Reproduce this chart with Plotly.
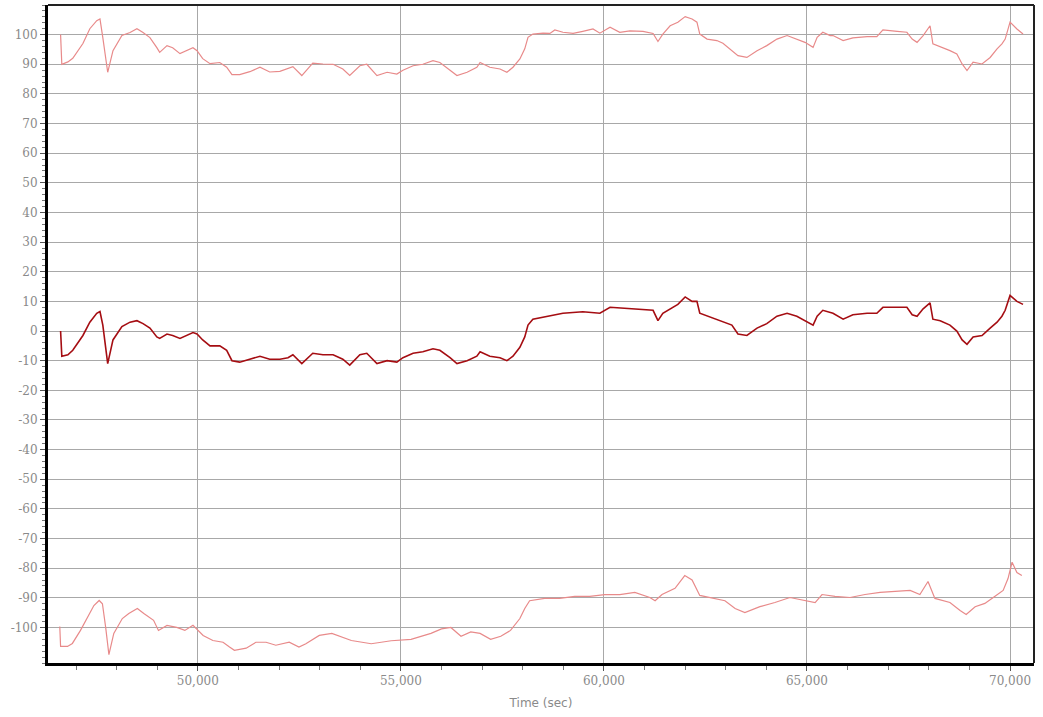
import plotly.graph_objects as go

# ---- data ----
t_upper = [46620, 46650, 46800, 46920, 47170, 47340, 47510, 47590, 47660, 47780, 47910, 48130, 48330, 48500,
           48650, 48820, 48990, 49060, 49240, 49380, 49560, 49730, 49880, 49980, 50120, 50300, 50540, 50710,
           50840, 51030, 51280, 51530, 51770, 52020, 52090, 52340, 52560, 52830, 53080, 53330, 53570, 53740,
           53990, 54160, 54410, 54660, 54900, 55050, 55300, 55540, 55790, 55960, 56210, 56380, 56630, 56870,
           56950, 57190, 57440, 57610, 57760, 57930, 58050, 58130, 58250, 58500, 58670, 58790, 58990, 59240,
           59480, 59730, 59900, 60150, 60390, 60640, 60960, 61210, 61330, 61450, 61630, 61820, 62000, 62170,
           62290, 62360, 62540, 62780, 62930, 63150, 63300, 63520, 63770, 64010, 64260, 64510, 64750, 64950,
           65150, 65250, 65390, 65570, 65640, 65890, 66130, 66480, 66720, 66870, 67220, 67460, 67590, 67710,
           67860, 68030, 68100, 68280, 68520, 68690, 68820, 68940, 69090, 69310, 69510, 69680, 69800, 69880,
           70000, 70170, 70320]
v_upper = [100, 90, 90.8, 92, 97, 102, 104.7, 105.3, 99, 87.3, 94.6, 99.7, 100.7, 102,
           100.7, 99, 95.6, 94, 96.3, 95.6, 93.6, 94.6, 95.6, 94.6, 91.9, 90.2, 90.6, 89,
           86.5, 86.5, 87.5, 89, 87.4, 87.6, 88, 89.2, 86.2, 90.4, 90.1, 90, 88.4, 86.2,
           89.5, 90, 86.2, 87.3, 86.7, 88, 89.5, 90, 91.2, 90.6, 88, 86.2, 87.3, 89,
           90.6, 89, 88.4, 87.3, 89, 91.8, 95.2, 99.1, 100.2, 100.5, 100.4, 101.6, 100.8, 100.4,
           101.1, 101.9, 100.5, 102.5, 100.8, 101.3, 101.1, 100.4, 97.7, 100.2, 103, 104.2, 106.1, 105.3,
           104.2, 100.2, 98.5, 98, 97.1, 94.6, 92.9, 92.3, 94.6, 96.3, 98.5, 99.7, 98.5, 97.4,
           95.7, 99.1, 100.8, 99.7, 99.7, 98, 98.9, 99.3, 99.3, 101.6, 101.1, 100.8, 98.5, 97.4,
           99.7, 103, 96.9, 96, 94.6, 93.5, 90.1, 87.9, 90.7, 90.1, 92.3, 95.2, 96.9, 98.5,
           104.2, 101.9, 100.2]

t_mid = [46620, 46650, 46800, 46920, 47170, 47340, 47510, 47590, 47660, 47780, 47910, 48130, 48330, 48500,
         48650, 48820, 48990, 49060, 49240, 49380, 49560, 49730, 49880, 49980, 50120, 50300, 50540, 50710,
         50840, 51030, 51280, 51530, 51770, 52020, 52220, 52340, 52560, 52830, 53080, 53330, 53570, 53740,
         53990, 54160, 54410, 54660, 54900, 55050, 55300, 55540, 55790, 55960, 56210, 56380, 56630, 56870,
         56950, 57190, 57440, 57610, 57760, 57930, 58050, 58130, 58250, 58670, 58990, 59480, 59900, 60150,
         60640, 61210, 61330, 61450, 61820, 62000, 62170, 62290, 62360, 62780, 63150, 63300, 63520, 63770,
         64010, 64260, 64510, 64750, 64950, 65150, 65250, 65390, 65640, 65890, 66130, 66480, 66720, 66870,
         67220, 67460, 67590, 67710, 67860, 68030, 68100, 68280, 68520, 68690, 68820, 68940, 69090, 69310,
         69510, 69680, 69800, 69880, 70000, 70170, 70320]
v_mid = [0, -8.5, -8, -6.5, -1.5, 3, 6, 6.6, 2, -11, -3, 1.5, 3, 3.5,
         2.5, 1, -2, -2.5, -1, -1.5, -2.5, -1.5, -0.5, -1, -3, -5, -5, -6.5,
         -10, -10.5, -9.5, -8.5, -9.5, -9.5, -9, -8, -11, -7.5, -8, -8, -9.5, -11.5,
         -8, -7.5, -11, -10, -10.5, -9, -7.5, -7, -6, -6.5, -9, -11, -10, -8.5,
         -7, -8.5, -9, -10, -8.5, -5.5, -2, 2, 4, 5, 6, 6.5, 6, 8,
         7.5, 7, 3.5, 6, 9, 11.5, 10, 10, 6, 4, 2, -1, -1.5, 1,
         2.5, 5, 6, 5, 3.5, 2, 5, 7, 6, 4, 5.5, 6, 6, 8,
         8, 8, 5.5, 5, 7.5, 9.5, 4, 3.5, 2, 0, -3, -4.5, -2, -1.5,
         1, 3, 5, 7, 12, 10, 9]

t_lower = [46600, 46620, 46790, 46910, 47110, 47280, 47440, 47570, 47650, 47730, 47810, 47930, 48140, 48300,
           48510, 48670, 48910, 49030, 49240, 49480, 49680, 49880, 50000, 50130, 50370, 50620, 50780, 50900,
           51190, 51430, 51680, 51920, 52250, 52490, 52660, 52990, 53300, 53780, 54270, 54760, 55250, 55740,
           56000, 56230, 56480, 56720, 56950, 57210, 57460, 57700, 57930, 58050, 58170, 58540, 58910, 59280,
           59650, 60020, 60390, 60760, 61130, 61260, 61430, 61750, 61990, 62170, 62360, 62730, 62980, 63230,
           63470, 63840, 64210, 64580, 64950, 65200, 65370, 65690, 66060, 66430, 66800, 67170, 67540, 67780,
           67980, 68150, 68520, 68770, 68920, 69140, 69380, 69630, 69830, 69950, 70050, 70170, 70290]
v_lower = [-99.7, -106.4, -106.4, -105.4, -101, -96.6, -92.6, -90.9, -92, -100, -109.2, -102, -97, -95.3,
           -93.6, -95.3, -97.6, -101, -99.3, -100, -101, -99.3, -101, -102.7, -104.4, -105, -106.6, -107.7,
           -107, -105, -105, -106, -105, -106.6, -105.5, -102.7, -102, -104.4, -105.5, -104.5, -104, -102,
           -100.5, -100, -103, -101.5, -102, -104, -103, -101, -97, -93.6, -91, -90.2, -90.2, -89.5,
           -89.5, -88.9, -88.9, -88.2, -89.9, -91, -88.9, -86.8, -82.5, -84, -89.2, -90.2, -91, -93.6,
           -95, -93, -91.6, -89.9, -91, -91.6, -88.9, -89.5, -89.9, -88.9, -88.2, -87.9, -87.5, -88.9,
           -84.5, -90.2, -91.6, -94.3, -95.6, -93, -91.9, -89.5, -87.5, -83.5, -78, -81.5, -82.5]

y_ticks = [100, 90, 80, 70, 60, 50, 40, 30, 20, 10, 0, -10, -20, -30, -40, -50, -60, -70, -80, -90, -100]
y_ticktext = ["100", "90", "80", "70", "60", "50", "40", "30", "20", "10", "0", "-10", "-20", "-30", "-40",
              "-50", "-60", "-70", "-80", "-90", "-100"]
x_ticks = [50000, 55000, 60000, 65000, 70000]
x_ticktext = ["50,000", "55,000", "60,000", "65,000", "70,000"]

fig = go.Figure()
fig.add_trace(go.Scatter(x=t_upper, y=v_upper, mode="lines",
                         line=dict(color="#e88a8a", width=1.2), showlegend=False))
fig.add_trace(go.Scatter(x=t_lower, y=v_lower, mode="lines",
                         line=dict(color="#e88a8a", width=1.2), showlegend=False))
fig.add_trace(go.Scatter(x=t_mid, y=v_mid, mode="lines",
                         line=dict(color="#a50d12", width=1.6), showlegend=False))

fig.update_layout(
    width=1043, height=717,
    margin=dict(l=48, r=9, t=5, b=54),
    paper_bgcolor="white", plot_bgcolor="white",
    font=dict(family="DejaVu Serif", size=12, color="#8a8a8a"),
)
fig.update_xaxes(
    range=[46310, 70590], tickvals=x_ticks, ticktext=x_ticktext,
    showgrid=True, gridcolor="#a8a8a8", gridwidth=1,
    showline=True, linecolor="black", linewidth=3, mirror=False,
    ticks="outside", ticklen=5, tickcolor="#555",
    minor=dict(dtick=1000, ticks="outside", ticklen=4, tickcolor="#777", showgrid=False),
    title=dict(text="Time (sec)", font=dict(family="DejaVu Sans", size=12, color="#8a8a8a"), standoff=12),
    tickfont=dict(family="DejaVu Serif", size=12, color="#8a8a8a"),
    zeroline=False,
)
fig.update_yaxes(
    range=[-112, 110], tickvals=y_ticks, ticktext=y_ticktext,
    showgrid=True, gridcolor="#a8a8a8", gridwidth=1,
    showline=True, linecolor="black", linewidth=3,
    ticks="outside", ticklen=5, tickcolor="#555",
    minor=dict(dtick=2, ticks="outside", ticklen=3, tickcolor="#777", showgrid=False),
    tickfont=dict(family="DejaVu Serif", size=12, color="#8a8a8a"),
    zeroline=False,
)
# top and right frame lines
fig.add_shape(type="line", xref="paper", yref="paper", x0=0, x1=1, y0=1, y1=1,
              line=dict(color="#222", width=2))
fig.add_shape(type="line", xref="paper", yref="paper", x0=1, x1=1, y0=0, y1=1,
              line=dict(color="#222", width=2))

fig.write_html("out.html", config={"displayModeBar": False},
               post_script="document.body.style.margin='0';document.body.style.padding='0';")
